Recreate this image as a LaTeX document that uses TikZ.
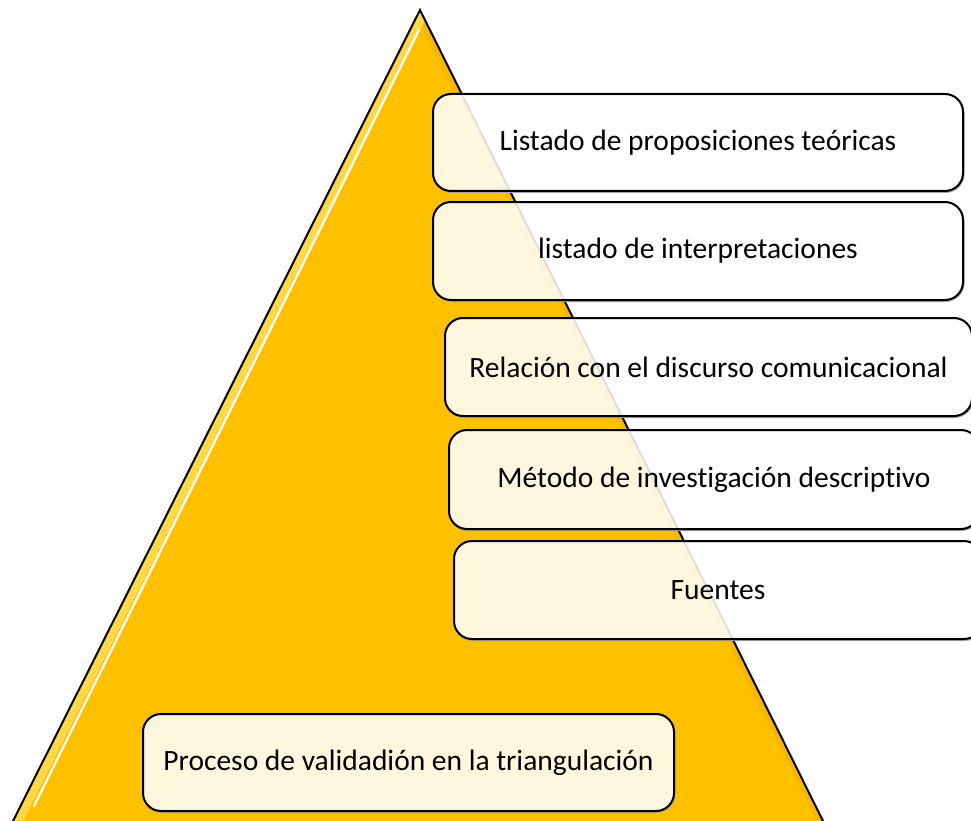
\documentclass[tikz,border=0pt]{standalone}
\usepackage{fontspec}
\setmainfont{Carlito}[Ligatures={NoCommon}]
\definecolor{tri}{HTML}{FFC000}
\definecolor{trilight}{HTML}{FFD84A}
\definecolor{tridark}{HTML}{F5B800}
\tikzset{
  box/.style={draw=black, line width=2pt, rounded corners=18pt, fill=white, fill opacity=0.87, text opacity=1, font=\fontsize{29.5}{34}\selectfont, inner sep=0pt, anchor=north west},
  boxshadow/.style={draw=black!35, line width=2pt, rounded corners=18pt}
}
\begin{document}
\begin{tikzpicture}[x=1pt,y=-1pt]
\useasboundingbox (0,0) rectangle (971,821);
\clip (0,0) rectangle (971,821);
% triangle
\coordinate (apex) at (420,10);
\coordinate (bl) at (13,821);
\coordinate (br) at (823,821);
\fill[tri] (apex) -- (bl) -- (br) -- cycle;
\begin{scope}
  \clip (apex) -- (bl) -- (br) -- cycle;
  \draw[tridark, line width=12pt] (apex) -- (br);
  \draw[trilight, line width=18pt] (apex) -- (bl);
\end{scope}
\coordinate (hl1) at (419,30);
\coordinate (hl2) at (34,806);
\draw[white, line width=2.2pt, line cap=round] (hl1) -- (hl2);
\draw[black, line width=2pt, line join=miter] (bl) -- (apex) -- (br);
% box shadows
\foreach \x/\y/\w/\h in {432/93/530/97, 432/201/530/98, 444/317/527/98, 448/429/530/99, 453/540/528/98, 142/713/531/97}{
  \draw[boxshadow] (\x+1.5,\y+2) rectangle ++(\w,\h);
}
\node[box, minimum width=530pt, minimum height=97pt] (n1) at (432,93) {Listado de proposiciones teóricas};
\node[box, minimum width=530pt, minimum height=98pt] (n2) at (432,201) {listado de interpretaciones};
\node[box, minimum width=527pt, minimum height=98pt] (n3) at (444,317) {Relación con el discurso comunicacional};
\node[box, minimum width=530pt, minimum height=99pt] (n4) at (448,429) {Método de investigación descriptivo};
\node[box, minimum width=528pt, minimum height=98pt] (n5) at (453,540) {Fuentes};
\node[box, minimum width=531pt, minimum height=97pt] (n6) at (142,713) {Proceso de validadión en la triangulación};
\end{tikzpicture}
\end{document}
